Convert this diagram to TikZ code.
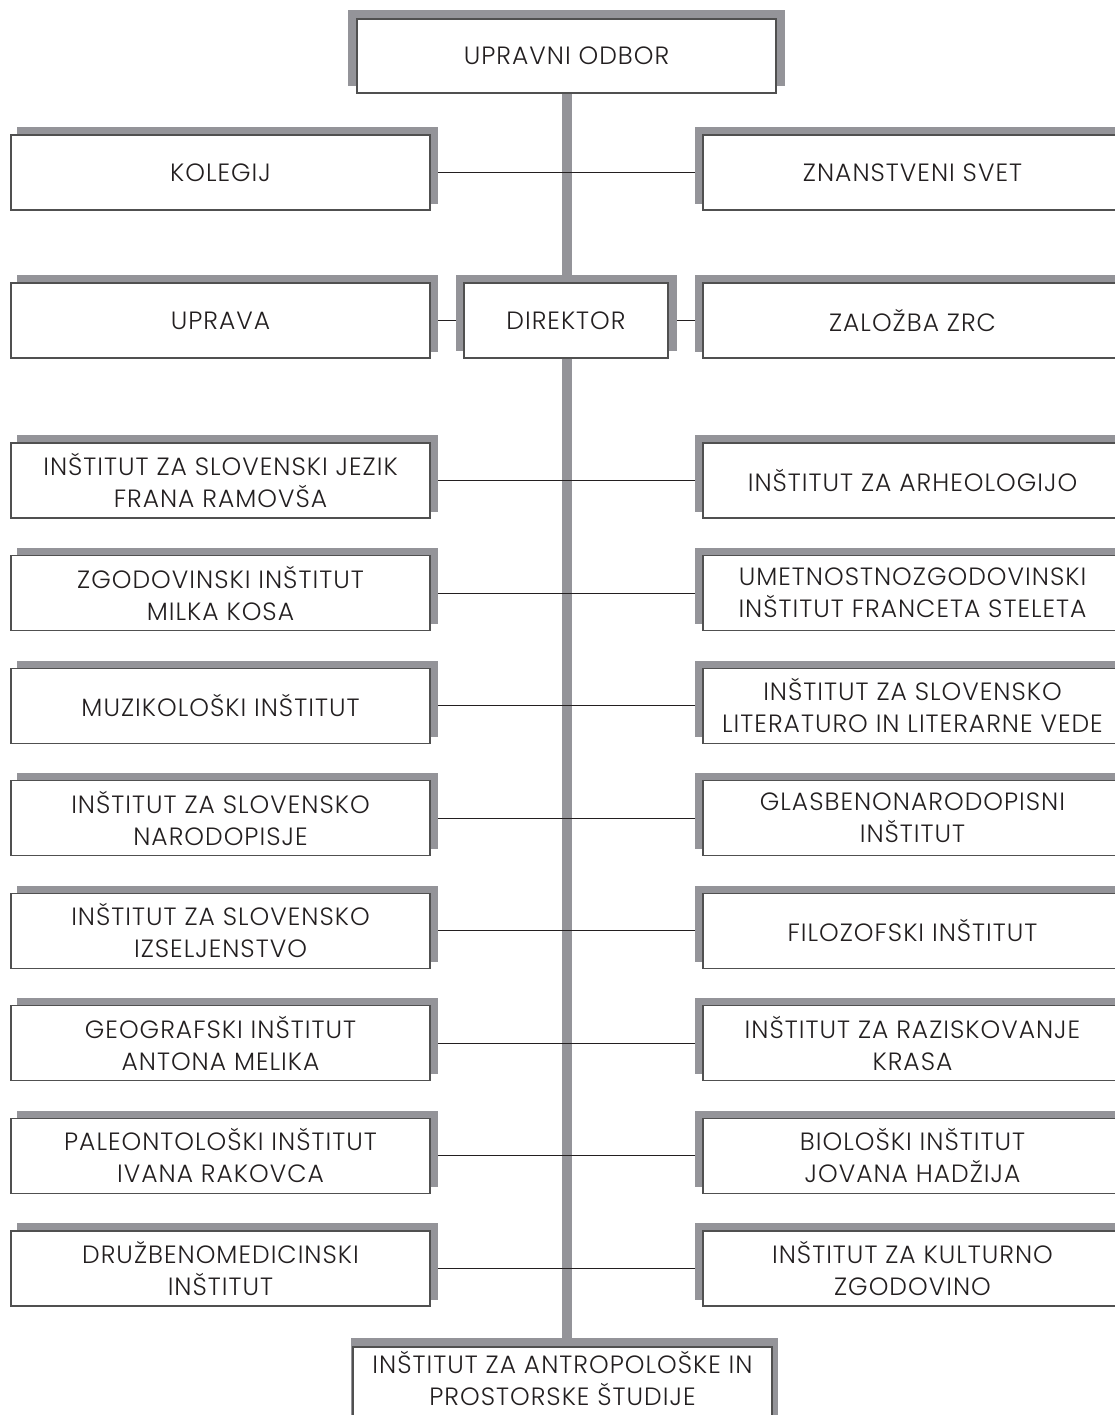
\documentclass[tikz,border=0pt]{standalone}
\usepackage{fontspec}
\setmainfont{Poppins Light}[LetterSpace=4]
\usetikzlibrary{backgrounds}
\definecolor{sivo}{RGB}{148,148,153}
\definecolor{rob}{RGB}{80,80,80}
\definecolor{crna}{RGB}{35,31,32}

\begin{document}
\begin{tikzpicture}[x=1pt,y=-1pt,
    okvir/.style={draw=rob, line width=1.2pt, fill=white, text=crna,
      minimum width=419pt, minimum height=75pt, inner sep=0pt, align=center,
      font=\fontsize{25}{32}\selectfont},
    deblo/.style={draw=sivo, line width=10pt},
    vez/.style={draw=crna, line width=1pt}]
    \useasboundingbox (0,0) rectangle (1115,1415);
    \clip (0,0) rectangle (1115,1415);

    \node[okvir, minimum height=74pt] (odbor) at (566.5,56) {UPRAVNI ODBOR};
    \node[okvir] (kolegij) at (220.5,172.5) {KOLEGIJ};
    \node[okvir] (svet) at (912.5,172.5) {ZNANSTVENI SVET};
    \node[okvir] (uprava) at (220.5,320.5) {UPRAVA};
    \node[okvir, minimum width=204pt] (direktor) at (566,320.5) {DIREKTOR};
    \node[okvir] (zalozba) at (912.5,320.5) {ZALOŽBA ZRC};

    \foreach \i/\levo/\desno in {
        1/{INŠTITUT ZA SLOVENSKI JEZIK\\FRANA RAMOVŠA}/{INŠTITUT ZA ARHEOLOGIJO},
        2/{ZGODOVINSKI INŠTITUT\\MILKA KOSA}/{UMETNOSTNOZGODOVINSKI\\INŠTITUT FRANCETA STELETA},
        3/{MUZIKOLOŠKI INŠTITUT}/{INŠTITUT ZA SLOVENSKO\\LITERATURO IN LITERARNE VEDE},
        4/{INŠTITUT ZA SLOVENSKO\\NARODOPISJE}/{GLASBENONARODOPISNI\\INŠTITUT},
        5/{INŠTITUT ZA SLOVENSKO\\IZSELJENSTVO}/{FILOZOFSKI INŠTITUT},
        6/{GEOGRAFSKI INŠTITUT\\ANTONA MELIKA}/{INŠTITUT ZA RAZISKOVANJE\\KRASA},
        7/{PALEONTOLOŠKI INŠTITUT\\IVANA RAKOVCA}/{BIOLOŠKI INŠTITUT\\JOVANA HADŽIJA},
        8/{DRUŽBENOMEDICINSKI\\INŠTITUT}/{INŠTITUT ZA KULTURNO\\ZGODOVINO}} {
        \node[okvir] (l\i) at (220.5,{480.5+112.57*(\i-1)}) {\levo};
        \node[okvir] (d\i) at (912.5,{480.5+112.57*(\i-1)}) {\desno};
    }
    \node[okvir, label={[anchor=north, align=center, inner sep=0pt, text=crna,
        font=\fontsize{25}{32}\selectfont, yshift=-5pt]north:{INŠTITUT ZA ANTROPOLOŠKE IN\\PROSTORSKE ŠTUDIJE}}]
        (antro) at (562.5,1384.5) {};

    \begin{scope}[on background layer]
        \draw[deblo] (odbor) -- (odbor |- antro.north);
        \draw[vez] (kolegij) -- (svet);
        \draw[vez] (uprava) -- (direktor);
        \draw[vez] (direktor) -- (zalozba);
        \foreach \i in {1,...,8} {
            \draw[vez] (l\i) -- (d\i);
        }
        \foreach \n in {kolegij,uprava,l1,l2,l3,l4,l5,l6,l7,l8} {
            \fill[sivo] ([shift={(7,-7)}]\n.north west) rectangle ([shift={(7,-7)}]\n.south east);
        }
        \foreach \n in {svet,zalozba,d1,d2,d3,d4,d5,d6,d7,d8} {
            \fill[sivo] ([shift={(-7,-7)}]\n.north west) rectangle ([shift={(-7,-7)}]\n.south east);
        }
        \fill[sivo] ([shift={(-8,-8)}]odbor.north west) rectangle ([shift={(8,-8)}]odbor.south east);
        \fill[sivo] ([shift={(-7,-7)}]direktor.north west) rectangle ([shift={(8,-8)}]direktor.south east);
        \fill[sivo] ([shift={(-1,-8)}]antro.north west) rectangle ([shift={(5,-8)}]antro.south east);
    \end{scope}
\end{tikzpicture}
\end{document}
